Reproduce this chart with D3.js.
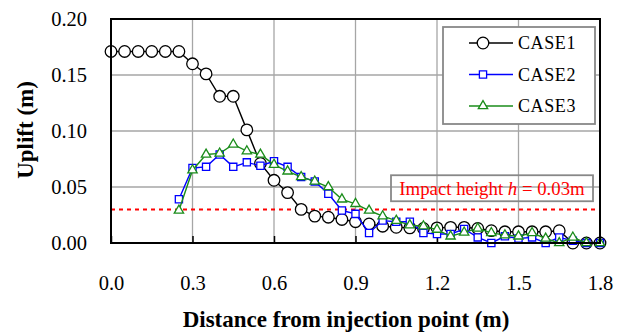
<!DOCTYPE html>
<html>
<head>
<meta charset="utf-8">
<script src="https://cdn.jsdelivr.net/npm/d3@7"></script>
<style>
  body { margin: 0; background: #fff; }
  text { font-family: "Liberation Serif", "Times New Roman", serif; }
</style>
</head>
<body>
<div id="chart"></div>
<script>
// distances (m)
const xCase1 = [0.00, 0.05, 0.10, 0.15, 0.20, 0.25, 0.30, 0.35, 0.40, 0.45, 0.50, 0.55, 0.60, 0.65, 0.70, 0.75, 0.80, 0.85, 0.90,
    0.95, 1.00, 1.05, 1.10, 1.15, 1.20, 1.25, 1.30, 1.35, 1.40, 1.45, 1.50, 1.55, 1.60, 1.65, 1.70, 1.75, 1.80];
const xCase23 = [0.25, 0.30, 0.35, 0.40, 0.45, 0.50, 0.55, 0.60, 0.65, 0.70, 0.75, 0.80, 0.85, 0.90,
    0.95, 1.00, 1.05, 1.10, 1.15, 1.20, 1.25, 1.30, 1.35, 1.40, 1.45, 1.50, 1.55, 1.60, 1.65, 1.70, 1.75, 1.80];

// uplift (m)
const case1 = [0.171, 0.171, 0.171, 0.171, 0.171, 0.171, 0.160, 0.151, 0.131, 0.131, 0.101, 0.071, 0.056, 0.045, 0.030, 0.024, 0.023, 0.021, 0.019,
    0.017, 0.015, 0.014, 0.0135, 0.013, 0.0135, 0.014, 0.014, 0.013, 0.011, 0.010, 0.010, 0.010, 0.010, 0.011, 0.000, 0.000, 0.000];
const case2 = [0.039, 0.067, 0.068, 0.079, 0.068, 0.072, 0.069, 0.073, 0.068, 0.059, 0.055, 0.044, 0.029, 0.026,
    0.009, 0.020, 0.019, 0.019, 0.009, 0.008, 0.008, 0.0125, 0.005, 0.000, 0.006, 0.004, 0.005, 0.000, 0.005, 0.002, 0.000, 0.000];
const case3 = [0.029, 0.065, 0.079, 0.080, 0.088, 0.082, 0.079, 0.070, 0.064, 0.059, 0.055, 0.050, 0.039, 0.035,
    0.029, 0.024, 0.020, 0.016, 0.015, 0.012, 0.006, 0.0095, 0.013, 0.009, 0.007, 0.006, 0.009, 0.004, 0.000, 0.005, 0.000, 0.000];

const seriesNames = ["CASE1", "CASE2", "CASE3"];
const xTicks = [0.0, 0.3, 0.6, 0.9, 1.2, 1.5, 1.8];
const yTicks = [0.00, 0.05, 0.10, 0.15, 0.20];
const impactHeight = 0.03;

const width = 625, height = 332;
const margin = { top: 19, right: 25, bottom: 89, left: 111 };
const w = width - margin.left - margin.right;
const h = height - margin.top - margin.bottom;

const svg = d3.select("#chart").append("svg")
    .attr("width", width)
    .attr("height", height);
const g = svg.append("g").attr("transform", `translate(${margin.left},${margin.top})`);

const x = d3.scaleLinear().domain([0, 1.8]).range([0, w]);
const y = d3.scaleLinear().domain([0, 0.2]).range([h, 0]);

// grid
g.selectAll(".vgrid").data(xTicks.slice(1, -1)).enter().append("line")
    .attr("x1", d => x(d)).attr("x2", d => x(d))
    .attr("y1", 0).attr("y2", h)
    .attr("stroke", "#a6a6a6").attr("stroke-width", 1.3);
g.selectAll(".hgrid").data(yTicks.slice(1, -1)).enter().append("line")
    .attr("x1", 0).attr("x2", w)
    .attr("y1", d => y(d)).attr("y2", d => y(d))
    .attr("stroke", "#a6a6a6").attr("stroke-width", 1.3);

// axes (inner ticks on bottom, labels only on left)
const xAxis = g.append("g").attr("transform", `translate(0,${h})`)
    .call(d3.axisBottom(x).tickValues(xTicks).tickSize(-7).tickFormat(d3.format(".1f")));
const yAxis = g.append("g")
    .call(d3.axisLeft(y).tickValues(yTicks).tickSize(0).tickPadding(24).tickFormat(d3.format(".2f")));
[xAxis, yAxis].forEach(a => {
    a.select(".domain").remove();
    a.selectAll("line").attr("stroke", "#000").attr("stroke-width", 1.5);
    a.selectAll("text").attr("fill", "#000")
        .style("font-family", "'Liberation Serif', serif").style("font-size", "20.5px");
});
xAxis.selectAll("text").attr("y", 47).attr("dy", 0);

// impact height line
g.append("line")
    .attr("x1", 0).attr("x2", w)
    .attr("y1", y(impactHeight)).attr("y2", y(impactHeight))
    .attr("stroke", "#ff0000").attr("stroke-width", 2)
    .attr("stroke-dasharray", "4,4");

// impact label
const lab = g.append("g");
lab.append("rect")
    .attr("x", 280).attr("y", y(0.0605))
    .attr("width", 202).attr("height", 26)
    .attr("fill", "none").attr("stroke", "#888").attr("stroke-width", 1.8);
const lt = lab.append("text")
    .attr("x", 381).attr("y", y(0.0605) + 19.5)
    .attr("text-anchor", "middle")
    .attr("fill", "#ff0000").style("font-size", "18.8px");
lt.append("tspan").text("Impact height ");
lt.append("tspan").style("font-style", "italic").text("h");
lt.append("tspan").text(" = 0.03m");

// series
const series = [
    { name: seriesNames[0], xs: xCase1, ys: case1, color: "#000000", shape: d3.symbolCircle, size: 105 },
    { name: seriesNames[1], xs: xCase23, ys: case2, color: "#0000ff", shape: d3.symbolSquare, size: 52 },
    { name: seriesNames[2], xs: xCase23, ys: case3, color: "#1a8c1a", shape: d3.symbolTriangle, size: 38 }
];

const line = d3.line().x(d => x(d[0])).y(d => y(d[1]));

series.forEach(s => {
    const pts = s.xs.map((v, i) => [v, s.ys[i]]);
    g.append("path")
        .datum(pts)
        .attr("d", line)
        .attr("fill", "none")
        .attr("stroke", s.color)
        .attr("stroke-width", 1.4);
    g.selectAll(null).data(pts).enter().append("path")
        .attr("d", d3.symbol().type(s.shape).size(s.size))
        .attr("transform", d => `translate(${x(d[0])},${y(d[1])})`)
        .attr("fill", "#fff")
        .attr("stroke", s.color)
        .attr("stroke-width", 1.3);
});

// plot frame
g.append("rect")
    .attr("width", w).attr("height", h)
    .attr("fill", "none").attr("stroke", "#000").attr("stroke-width", 2);

// legend
const leg = g.append("g").attr("transform", `translate(${332},${8})`);
leg.append("rect")
    .attr("width", 152).attr("height", 97)
    .attr("fill", "#fff").attr("stroke", "#888").attr("stroke-width", 1.8);
series.forEach((s, i) => {
    const row = leg.append("g").attr("transform", `translate(0,${16 + i * 31.5})`);
    row.append("line")
        .attr("x1", 26).attr("x2", 70)
        .attr("stroke", s.color).attr("stroke-width", 1.4);
    row.append("path")
        .attr("d", d3.symbol().type(s.shape).size(s.size))
        .attr("transform", "translate(40,0)")
        .attr("fill", "#fff").attr("stroke", s.color).attr("stroke-width", 1.3);
    row.append("text")
        .attr("x", 75).attr("dy", "0.35em")
        .style("font-size", "18px")
        .style("letter-spacing", "0.6px")
        .text(s.name);
});

// axis titles
svg.append("text")
    .attr("x", 346).attr("y", 326.5)
    .attr("text-anchor", "middle")
    .style("font-size", "23px").style("font-weight", "bold")
    .text("Distance from injection point (m)");
svg.append("text")
    .attr("transform", `translate(33,${130}) rotate(-90)`)
    .attr("text-anchor", "middle")
    .style("font-size", "23px").style("font-weight", "bold")
    .text("Uplift (m)");
</script>
</body>
</html>
